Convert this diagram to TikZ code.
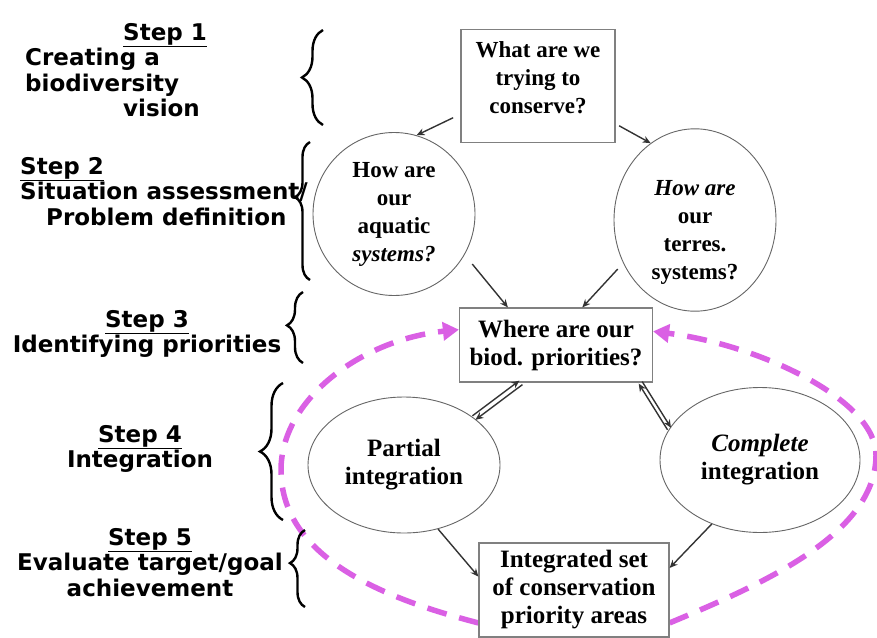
\documentclass[tikz,border=0pt]{standalone}
\usepackage{fontspec}
\setmainfont{Liberation Serif}
\newfontfamily\stepfont{DejaVu Sans}
\usetikzlibrary{shapes.geometric,arrows.meta,decorations.pathreplacing,backgrounds}
\definecolor{magboucle}{RGB}{218,96,228}

\tikzset{question/.style={draw=black!50,line width=1.2pt,fill=white,align=center,inner sep=2pt,
	font=\bfseries\fontsize{23}{28}\selectfont},
bulle/.style={ellipse,draw=black!60,line width=0.9pt,fill=white,align=center,inner sep=0pt,
	font=\bfseries\fontsize{23}{28}\selectfont},
etape/.style={align=center,inner sep=0pt,font=\stepfont\bfseries\fontsize{23}{25.5}\selectfont},
accolade/.style={decorate,line width=2.4pt,decoration={brace,amplitude=#1}},
accolade/.default={20pt},
fleche/.style={-{Stealth[length=8pt,width=7pt]},line width=1.4pt,black!80},
boucle/.style={magboucle,line width=5.5pt,dash pattern=on 20pt off 13pt,
	-{Triangle[length=16pt,width=18pt]}}}

\begin{document}
\begin{tikzpicture}[x=1pt,y=-1pt]
\useasboundingbox (0,0) rectangle (877,637);

% les questions
\node [question,minimum width=154pt,minimum height=113pt] (conserver) at (538,86) {What are we\\trying to\\conserve?\rule[-16pt]{0pt}{0pt}};
\node [bulle,minimum width=162pt,minimum height=163pt] (aquatique) at (394,214) {How are\\our\\aquatic\\\textit{systems?}};
\node [bulle,minimum width=162pt,minimum height=144pt] (terrestre) at (695,220) {\rule{0pt}{40pt}\textit{How are}\\our\\terres.\\systems?};
\node [question,minimum width=193pt,minimum height=74pt,font=\bfseries\fontsize{25}{28}\selectfont] (priorites) at (556,345) {Where are our\\biod. priorities?};
\node [bulle,minimum width=192pt,minimum height=136pt,font=\bfseries\fontsize{25}{28}\selectfont] (partielle) at (404,465) {Partial\\integration};
\node [bulle,minimum width=200pt,minimum height=145pt,font=\bfseries\fontsize{25}{28}\selectfont] (complete) at (760,460) {\textit{Complete}\\integration};
\node [question,minimum width=190pt,minimum height=94pt,font=\bfseries\fontsize{25}{28}\selectfont] (ensemble) at (574,590) {Integrated set\\of conservation\\priority areas};

% les etapes
\node [etape,anchor=north west,align=left] (etape1) at (25,23) {\hspace*{98pt}\underline{Step 1}\\Creating a\\biodiversity\\\hspace*{98pt}vision};
\node [etape,anchor=north west,align=left] (etape2) at (20,157) {\underline{Step 2}\\Situation assessment/\\\hspace*{26pt}Problem definition};
\node [etape,anchor=north] (etape3) at (147,310) {\underline{Step 3}\\Identifying priorities};
\node [etape,anchor=north] (etape4) at (140,425) {\underline{Step 4}\\Integration};
\node [etape,anchor=north] (etape5) at (150,528) {\underline{Step 5}\\Evaluate target/goal\\achievement};

\foreach \x/\haut/\bas/\amp/\asp in {323/30/125/21/.5,310/142/280/15/.6,303/292/363/16/.53,283/383/520/23/.5,305/530/607/15/.57}
	\draw [accolade=\amp pt,decoration={aspect=\asp}] (\x,\bas) -- (\x,\haut);

% fleches
\draw [fleche,shorten <=8pt] (conserver.200) -- (aquatique.74);
\draw [fleche,shorten <=4pt] (conserver.-26) -- (terrestre.120);
\draw [fleche,shorten <=12pt] (aquatique.-30) -- (priorites.142);
\draw [fleche,shorten <=8pt] (terrestre.211) -- (priorites.55);
\draw [fleche] ([shift={(1.5,2)}]priorites.227) -- ([shift={(1.5,2)}]partielle.34);
\draw [fleche] ([shift={(-1.5,-2)}]partielle.34) -- ([shift={(-1.5,-2)}]priorites.227);
\draw [fleche] ([shift={(1.75,-1)}]priorites.-24) -- ([shift={(1.75,-1)}]complete.161);
\draw [fleche] ([shift={(-1.75,1)}]complete.161) -- ([shift={(-1.75,1)}]priorites.-24);
\draw [fleche] (partielle.-62) -- (ensemble.172);
\draw [fleche] (complete.233) -- (ensemble.13);

% la boucle
\coordinate (gauche) at (281,470);
\coordinate (droite) at (876,455);
\begin{scope}[on background layer]
\draw [boucle] (ensemble.199) .. controls (390,600) and (281,560) .. (gauche)
	.. controls (281,400) and (360,340) .. (priorites.171);
\draw [boucle] (ensemble.-19) .. controls (760,585) and (876,535) .. (droite)
	.. controls (876,400) and (760,345) .. (priorites.8);
\end{scope}
\end{tikzpicture}
\end{document}
